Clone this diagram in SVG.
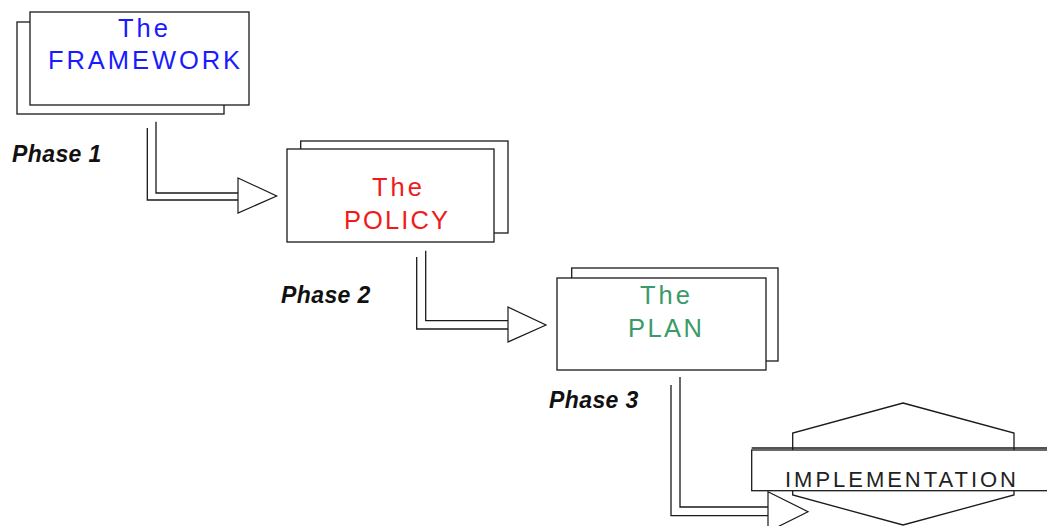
<svg xmlns="http://www.w3.org/2000/svg" width="1047" height="526" viewBox="0 0 1047 526">
  <style>
    .box { fill: #fff; stroke: #1a1a1a; stroke-width: 1.3; }
    .line { fill: none; stroke: #1a1a1a; stroke-width: 1.3; }
    .head { fill: #fff; stroke: #1a1a1a; stroke-width: 1.2; }
    .title { font-family: "Liberation Sans", Arial, sans-serif; font-size: 25.5px; }
    .phase { font-family: "Liberation Sans", Arial, sans-serif; font-size: 23px; font-weight: bold; font-style: italic; fill: #111; letter-spacing: 0.4px; }
    .impl { font-family: "Liberation Sans", Arial, sans-serif; font-size: 22px; fill: #222; }
  </style>
  <rect width="1047" height="526" fill="#fff"/>

  <!-- phase connectors: double-line elbows ending in open arrowheads -->
  <g id="connectors">
    <polyline class="line" points="147.3,128 147.3,200 238,200"/>
    <polyline class="line" points="156,121.7 156,193 238,193"/>
    <polygon class="head" points="238,178 276.7,196 238,213"/>

    <polyline class="line" points="416.7,257 416.7,329 508,329"/>
    <polyline class="line" points="425.7,250.7 425.7,320.7 508,320.7"/>
    <polygon class="head" points="508,307 546,325 508,342"/>

    <polyline class="line" points="671,385 671,515.7 768,515.7"/>
    <polyline class="line" points="680,377 680,507 768,507"/>
    <polygon class="head" points="768,491.7 808,511.7 768,531.7"/>
  </g>

  <g id="framework">
    <rect class="box" x="17" y="22" width="207" height="92"/>
    <rect class="box" x="30" y="12" width="219" height="93"/>
    <text class="title" fill="#1a1aff" x="118" y="37" textLength="50" lengthAdjust="spacing">The</text>
    <text class="title" fill="#1a1aff" x="48" y="68.5" textLength="192" lengthAdjust="spacing">FRAMEWORK</text>
  </g>

  <g id="phase1">
    <text class="phase" x="12" y="162">Phase 1</text>
  </g>

  <g id="policy">
    <rect class="box" x="300.7" y="141" width="207.3" height="92"/>
    <rect class="box" x="287" y="149" width="207" height="93"/>
    <text class="title" fill="#f01a1a" x="372" y="195.5" textLength="50" lengthAdjust="spacing">The</text>
    <text class="title" fill="#f01a1a" x="344" y="228.5" textLength="104" lengthAdjust="spacing">POLICY</text>
  </g>

  <g id="phase2">
    <text class="phase" x="281" y="303">Phase 2</text>
  </g>

  <g id="plan">
    <rect class="box" x="571.7" y="268" width="206.3" height="93"/>
    <rect class="box" x="557" y="278" width="209" height="92"/>
    <text class="title" fill="#3a9a68" x="640" y="303.5" textLength="50" lengthAdjust="spacing">The</text>
    <text class="title" fill="#3a9a68" x="628" y="336.5" textLength="74" lengthAdjust="spacing">PLAN</text>
  </g>

  <g id="phase3">
    <text class="phase" x="549" y="408">Phase 3</text>
  </g>

  <g id="implementation">
    <polygon class="box" points="903,403 1014,433 1014,495 903,525 792.7,495 792.7,433"/>
    <rect class="box" x="751.7" y="450" width="310" height="40.7"/>
    <line class="line" x1="751.7" y1="448" x2="1047" y2="448" stroke-width="1"/>
    <text class="impl" x="785" y="486.5" textLength="231" lengthAdjust="spacing">IMPLEMENTATION</text>
  </g>
</svg>
